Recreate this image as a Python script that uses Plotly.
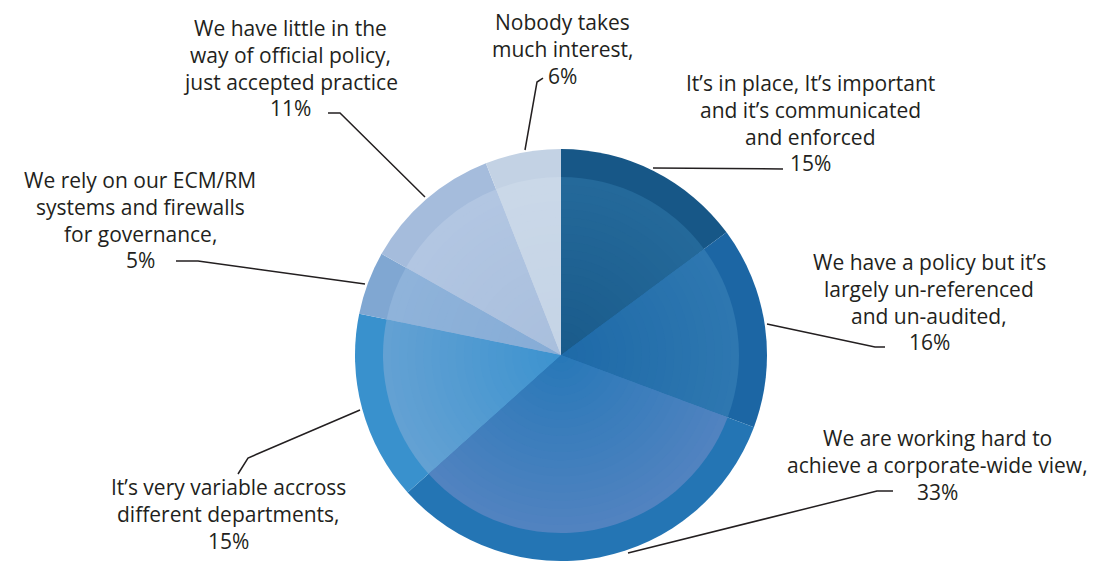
import plotly.graph_objects as go

# Survey answers, clockwise from 12 o'clock
categories = [
    "It’s in place, It’s important<br>and it’s communicated<br>and enforced",
    "We have a policy but it’s<br>largely un-referenced<br>and un-audited,",
    "We are working hard to<br>achieve a corporate-wide view,",
    "It’s very variable accross<br>different departments,",
    "We rely on our ECM/RM<br>systems and firewalls<br>for governance,",
    "We have little in the<br>way of official policy,<br>just accepted practice",
    "Nobody takes<br>much interest,",
]
shares = [15, 16, 33, 15, 5, 11, 6]

# Slice colours: outer rim, inner disc edge, inner disc centre
rim_colors = ["#175787", "#1c66a4", "#2475b4", "#3991cd", "#80a7d2", "#a5bcdc", "#c3d2e4"]
edge_colors = ["#24699a", "#2e77b0", "#5183c0", "#63a1d3", "#8fb3da", "#b2c6e2", "#cad8e8"]
core_colors = ["#1a5b8b", "#1e6aa8", "#2878b8", "#3d93cf", "#86acd6", "#a9bfdd", "#c5d4e6"]

W, H = 1110, 561
CX, CY = 561, 355          # pie centre in pixels (from top-left)
R_OUT, R_IN = 206, 178     # rim radius and inner-disc radius
N_LAYERS = 22
FONT = dict(family="Open Sans", size=21, color="#231f20")
LINE_STEP = 26.8


def hex_to_rgb(h):
    h = h.lstrip("#")
    return tuple(int(h[i:i + 2], 16) for i in (0, 2, 4))


def mix(a, b, t):
    ca, cb = hex_to_rgb(a), hex_to_rgb(b)
    return "rgb({},{},{})".format(*[round(ca[i] + (cb[i] - ca[i]) * t) for i in range(3)])


def domain(r):
    return dict(
        x=[(CX - r) / W, (CX + r) / W],
        y=[(H - CY - r) / H, (H - CY + r) / H],
    )


fig = go.Figure()


def add_disc(r, colors):
    fig.add_trace(go.Pie(
        labels=categories, values=shares, sort=False, direction="clockwise",
        rotation=0, textinfo="none", hoverinfo="skip", showlegend=False,
        marker=dict(colors=colors, line=dict(width=0)),
        domain=domain(r),
    ))


add_disc(R_OUT, rim_colors)
for k in range(N_LAYERS):
    t = k / (N_LAYERS - 1)          # 0 at the disc edge, 1 near the centre
    r = R_IN * (1 - k / N_LAYERS)
    add_disc(r, [mix(e, c, t) for e, c in zip(edge_colors, core_colors)])

# Label blocks (centre x, first-line y in pixels) and their leader lines
label_pos = [(810, 83), (929, 262), (937, 438), (228, 487), (140, 180), (290, 28), (562, 22)]
leaders = [
    [(783, 169), (653, 168)],
    [(885, 347), (875, 347), (767, 324)],
    [(893, 491), (877, 491), (628, 553)],
    [(238, 474), (248, 458), (360, 410)],
    [(176, 261), (198, 261), (365, 284)],
    [(328, 113), (340, 113), (425, 197)],
    [(543, 78), (537, 82), (525, 150)],
]

for cat, val, (lx, ly) in zip(categories, shares, label_pos):
    lines = cat.split("<br>") + [f"{val}%"]
    for i, line in enumerate(lines):
        y = ly + i * LINE_STEP
        fig.add_annotation(
            x=lx / W, y=1 - y / H, xref="paper", yref="paper",
            text=line, showarrow=False, align="center",
            xanchor="center", yanchor="middle", font=FONT,
        )

for pts in leaders:
    path = "M " + " L ".join(f"{x / W:.5f},{1 - y / H:.5f}" for x, y in pts)
    fig.add_shape(type="path", path=path, xref="paper", yref="paper",
                  line=dict(color="#231f20", width=1.5))

fig.update_layout(
    width=W, height=H, autosize=False,
    margin=dict(l=0, r=0, t=0, b=0),
    paper_bgcolor="white", plot_bgcolor="white",
)

fig.write_html("out.html")
